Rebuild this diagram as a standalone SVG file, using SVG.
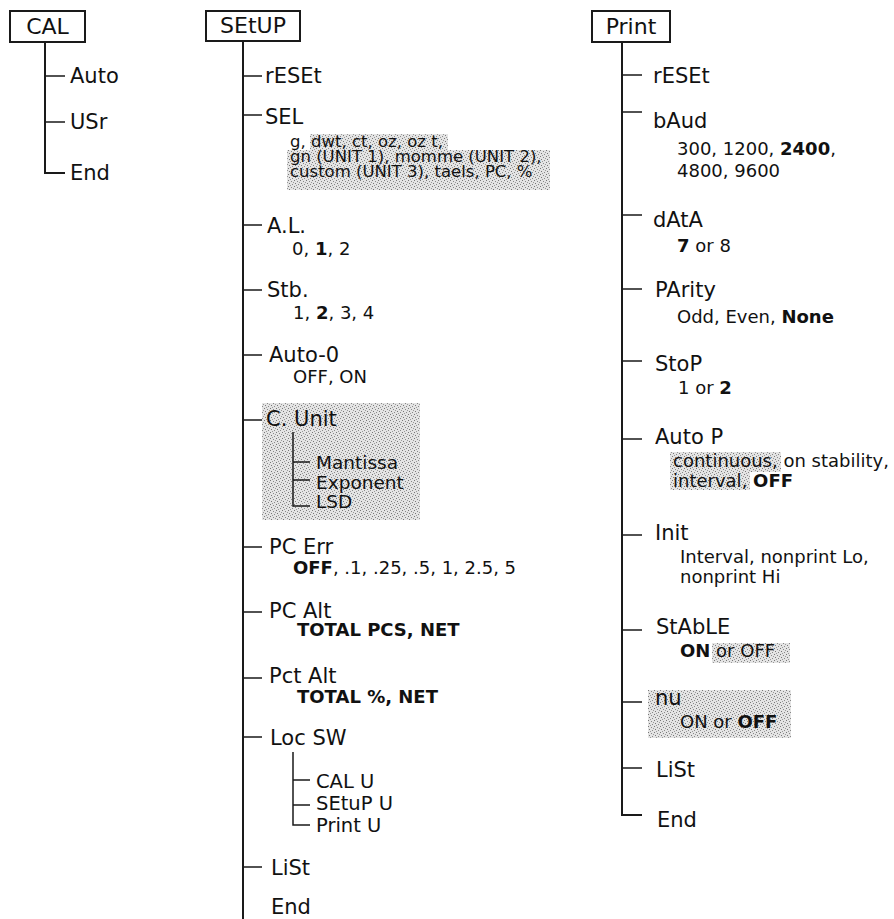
<svg xmlns="http://www.w3.org/2000/svg" width="894" height="919" viewBox="0 0 894 919">
<defs>
<pattern id="stip" width="6" height="6" patternUnits="userSpaceOnUse">
<rect width="6" height="6" fill="#e4e4e4"/>
<rect x="0" y="0" width="1" height="1" fill="#777"/>
<rect x="3" y="1" width="1" height="1" fill="#888"/>
<rect x="1" y="3" width="1" height="1" fill="#777"/>
<rect x="4" y="4" width="1" height="1" fill="#888"/>
<rect x="5" y="2" width="1" height="1" fill="#999"/>
<rect x="2" y="5" width="1" height="1" fill="#999"/>
</pattern>
<style>
text{font-family:"DejaVu Sans","Liberation Sans",sans-serif;fill:#111}
.ttl{font-size:22px;text-anchor:middle}
.lb{font-size:21px}
.v{font-size:18px}
.sv{font-size:16.5px}
.sb{font-size:18.5px}
.sl{font-size:19.5px}
.b{font-weight:bold}
.box{fill:#fff;stroke:#1a1a1a;stroke-width:2}
.ln{fill:none;stroke:#1a1a1a;stroke-width:2}
.tk{fill:none;stroke:#1a1a1a;stroke-width:1.5}
.sh{fill:url(#stip)}
</style>
</defs>
<rect width="894" height="919" fill="#fff"/>

<g id="shading">
<path class="sh" d="M310,134 H448 V150 H550 V190 H287 V150 H310 Z"/>
<rect class="sh" x="262" y="403" width="158" height="117"/>
<path class="sh" d="M670,452 H781 V472 H750 V490 H670 Z"/>
<rect class="sh" x="712" y="643" width="78" height="20"/>
<rect class="sh" x="648" y="690" width="143" height="48"/>
</g>

<g id="connectors">
<path class="ln" d="M45,42 V173 H65"/>
<path class="tk" d="M45,76 H65 M45,122 H65"/>
<path class="ln" d="M243,41 V919"/>
<path class="tk" d="M243,76 H262 M243,115 H262 M243,225 H262 M243,290 H262 M243,355 H262 M243,420 H262 M243,547 H262 M243,612 H262 M243,678 H262 M243,737 H262 M243,867 H262"/>
<path class="tk" d="M293,432 V506 H310 M293,462 H310 M293,480 H310"/>
<path class="tk" d="M293,752 V825 H310 M293,780 H310 M293,805 H310"/>
<path class="ln" d="M622,42 V815 H642"/>
<path class="tk" d="M622,75 H642 M622,112 H642 M622,215 H642 M622,289 H642 M622,361 H642 M622,439 H642 M622,535 H642 M622,630 H642 M622,702 H642 M622,768 H642"/>
</g>

<g id="cal">
<rect class="box" x="10" y="11" width="75" height="31"/>
<text class="ttl" x="47.5" y="34">CAL</text>
</g>
<g id="cal-auto"><text class="lb" x="70" y="83">Auto</text></g>
<g id="cal-usr"><text class="lb" x="70" y="129">USr</text></g>
<g id="cal-end"><text class="lb" x="70" y="180">End</text></g>

<g id="setup">
<rect class="box" x="206" y="11" width="94" height="30"/>
<text class="ttl" x="253" y="33">SEtUP</text>
</g>
<g id="setup-reset"><text class="lb" x="265" y="83">rESEt</text></g>
<g id="setup-sel">
<text class="lb" x="265" y="124">SEL</text>
<text class="sv" x="290" y="147">g, dwt, ct, oz, oz t,</text>
<text class="sv" x="290" y="162">gn (UNIT 1), momme (UNIT 2),</text>
<text class="sv" x="290" y="177">custom (UNIT 3), taels, PC, %</text>
</g>
<g id="setup-al">
<text class="lb" x="267" y="233">A.L.</text>
<text class="v" x="292" y="255">0, <tspan class="b">1</tspan>, 2</text>
</g>
<g id="setup-stb">
<text class="lb" x="267" y="297">Stb.</text>
<text class="v" x="293" y="319">1, <tspan class="b">2</tspan>, 3, 4</text>
</g>
<g id="setup-auto0">
<text class="lb" x="269" y="362">Auto-0</text>
<text class="v" x="293" y="383">OFF, ON</text>
</g>
<g id="setup-cunit">
<text class="lb" x="266" y="426">C. Unit</text>
<text class="sb" x="316" y="469">Mantissa</text>
<text class="sb" x="316" y="489">Exponent</text>
<text class="sb" x="316" y="508">LSD</text>
</g>
<g id="setup-pcerr">
<text class="lb" x="269" y="554">PC Err</text>
<text class="v" x="293" y="574"><tspan class="b">OFF</tspan>, .1, .25, .5, 1, 2.5, 5</text>
</g>
<g id="setup-pcalt">
<text class="lb" x="269" y="618">PC Alt</text>
<text class="v b" x="297" y="636">TOTAL PCS, NET</text>
</g>
<g id="setup-pctalt">
<text class="lb" x="269" y="683">Pct Alt</text>
<text class="v b" x="297" y="703">TOTAL %, NET</text>
</g>
<g id="setup-locsw">
<text class="lb" x="270" y="745">Loc SW</text>
<text class="sl" x="316" y="788">CAL U</text>
<text class="sl" x="316" y="810">SEtuP U</text>
<text class="sl" x="316" y="832">Print U</text>
</g>
<g id="setup-list"><text class="lb" x="271" y="875">LiSt</text></g>
<g id="setup-end"><text class="lb" x="271" y="914">End</text></g>

<g id="print">
<rect class="box" x="592" y="11" width="78" height="31"/>
<text class="ttl" x="631" y="34">Print</text>
</g>
<g id="print-reset"><text class="lb" x="653" y="83">rESEt</text></g>
<g id="print-baud">
<text class="lb" x="653" y="128">bAud</text>
<text class="v" x="677" y="155">300, 1200, <tspan class="b">2400</tspan>,</text>
<text class="v" x="677" y="177">4800, 9600</text>
</g>
<g id="print-data">
<text class="lb" x="653" y="227">dAtA</text>
<text class="v" x="677" y="252"><tspan class="b">7</tspan> or 8</text>
</g>
<g id="print-parity">
<text class="lb" x="655" y="297">PArity</text>
<text class="v" x="677" y="323">Odd, Even, <tspan class="b">None</tspan></text>
</g>
<g id="print-stop">
<text class="lb" x="655" y="371">StoP</text>
<text class="v" x="678" y="394">1 or <tspan class="b">2</tspan></text>
</g>
<g id="print-autop">
<text class="lb" x="655" y="444">Auto P</text>
<text class="v" x="673" y="467">continuous, on stability,</text>
<text class="v" x="673" y="487">interval, <tspan class="b">OFF</tspan></text>
</g>
<g id="print-init">
<text class="lb" x="655" y="540">Init</text>
<text class="v" x="680" y="563">Interval, nonprint Lo,</text>
<text class="v" x="680" y="583">nonprint Hi</text>
</g>
<g id="print-stable">
<text class="lb" x="656" y="634">StAbLE</text>
<text class="v" x="680" y="657"><tspan class="b">ON</tspan> or OFF</text>
</g>
<g id="print-nu">
<text class="lb" x="655" y="705">nu</text>
<text class="v" x="680" y="728">ON or <tspan class="b">OFF</tspan></text>
</g>
<g id="print-list"><text class="lb" x="656" y="777">LiSt</text></g>
<g id="print-end"><text class="lb" x="657" y="827">End</text></g>
</svg>
